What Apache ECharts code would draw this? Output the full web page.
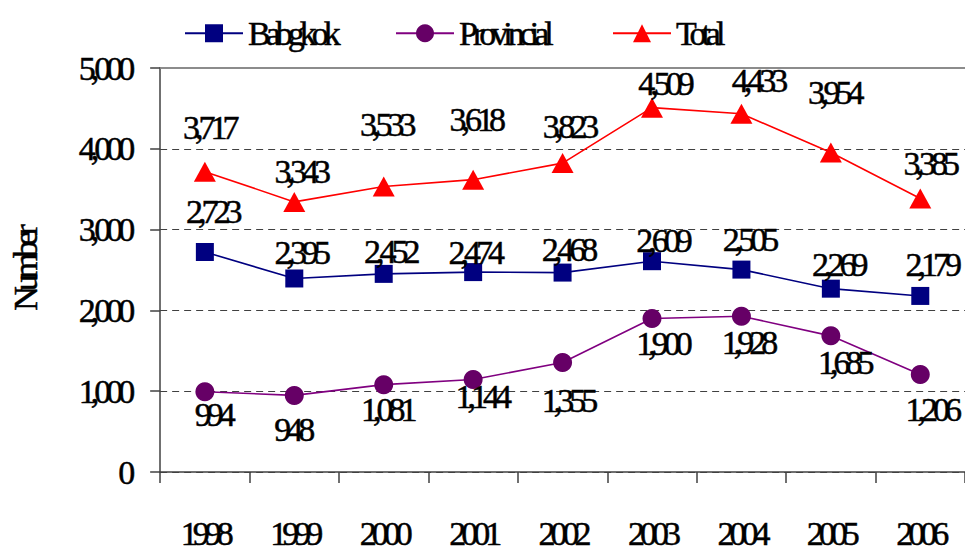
<!DOCTYPE html>
<html>
<head>
<meta charset="utf-8">
<script src="https://cdn.jsdelivr.net/npm/echarts@6/dist/echarts.min.js"></script>
<style>
  html, body { margin: 0; padding: 0; background: #ffffff; }
  #chart { width: 965px; height: 552px; }
  /* tight, overlapping serif lettering */
  #chart text { letter-spacing: -5px; }
</style>
</head>
<body>
<div id="chart"></div>
<script>
// Yearly counts, 1998-2006
const years = ['1998', '1999', '2000', '2001', '2002', '2003', '2004', '2005', '2006'];
const bangkok = [2723, 2395, 2452, 2474, 2468, 2609, 2505, 2269, 2179];
const provincial = [994, 948, 1081, 1144, 1355, 1900, 1928, 1685, 1206];
const total = [3717, 3343, 3533, 3618, 3823, 4509, 4433, 3954, 3385];

// Label placement relative to each marker centre: [dx, dy] in px
const labelNudge = {
  bangkok:    [[7, -40], [6, -26], [6, -22], [1, -20], [5, -23], [10, -21], [7, -30], [7, -24], [11, -31]],
  provincial: [[8, 23], [-2, 34], [3, 25], [8, 17], [5, 38], [10, 25], [6, 26], [13, 27], [11, 35]],
  total:      [[4, -44], [6, -30], [2, -62], [2, -60], [6, -37], [12, -24], [16, -33], [3, -60], [9, -35]]
};

const FONT = 'Liberation Serif, Times New Roman, serif';
const AXIS_COLOR = '#404040';
const fmt = v => Number(v).toLocaleString('en-US');

// shared lettering: large serif, slightly heavier stroke
const textBase = {
  fontFamily: FONT,
  fontSize: 34,
  color: '#000000',
  textBorderColor: '#000000',
  textBorderWidth: 0.5
};

function withLabels(values, nudges) {
  return values.map((v, i) => ({ value: v, label: { offset: nudges[i] } }));
}

function lineSeries(name, values, nudges, lineColor, markColor, symbol, size) {
  return {
    name: name,
    type: 'line',
    xAxisIndex: 0,
    data: withLabels(values, nudges),
    symbol: symbol,
    symbolSize: size,
    lineStyle: { color: lineColor, width: 1.6 },
    itemStyle: { color: markColor },
    label: Object.assign({
      show: true,
      position: 'inside',
      formatter: p => fmt(p.value)
    }, textBase),
    emphasis: { disabled: true },
    animation: false
  };
}

const legendBase = {
  top: 16,
  padding: 0,
  itemGap: 0,
  itemWidth: 58,
  itemHeight: 22.5,
  textStyle: Object.assign({}, textBase)
};

const option = {
  backgroundColor: '#ffffff',
  animation: false,
  legend: [
    Object.assign({}, legendBase, { data: ['Babgkok'], left: 184 }),
    Object.assign({}, legendBase, { data: ['Provincial'], left: 395 }),
    Object.assign({}, legendBase, { data: ['Total'], left: 612 })
  ],
  grid: { left: 153, right: 0, top: 68, bottom: 80, containLabel: false },
  xAxis: [
    {
      type: 'category',
      data: years,
      boundaryGap: true,
      axisLine: { show: true, lineStyle: { color: AXIS_COLOR, width: 1.5 } },
      axisTick: { show: true, length: 11, interval: 0, lineStyle: { color: AXIS_COLOR, width: 1.5 } },
      axisLabel: Object.assign({ interval: 0, margin: 44 }, textBase),
      splitLine: { show: false }
    },
    {
      // plot-area top edge
      type: 'category',
      data: years,
      position: 'top',
      axisLine: { show: true, lineStyle: { color: '#8c8c8c', width: 2 } },
      axisTick: { show: false },
      axisLabel: { show: false },
      splitLine: { show: false }
    }
  ],
  yAxis: {
    type: 'value',
    min: 0,
    max: 5000,
    interval: 1000,
    name: 'Number',
    nameLocation: 'middle',
    nameGap: 112,
    nameTextStyle: Object.assign({}, textBase),
    axisLine: { show: true, lineStyle: { color: AXIS_COLOR, width: 1.5 } },
    axisTick: { show: true, length: 10, lineStyle: { color: AXIS_COLOR, width: 1.5 } },
    axisLabel: Object.assign({ margin: 30, formatter: v => fmt(v) }, textBase),
    splitLine: { show: true, lineStyle: { color: AXIS_COLOR, width: 1, type: [7, 5] } }
  },
  series: [
    lineSeries('Babgkok', bangkok, labelNudge.bangkok, '#000080', '#000080', 'rect', 18),
    lineSeries('Provincial', provincial, labelNudge.provincial, '#800080', '#660066', 'circle', 19),
    lineSeries('Total', total, labelNudge.total, '#ff0000', '#ff0000', 'triangle', [22, 20])
  ]
};

const chart = echarts.init(document.getElementById('chart'), null, { renderer: 'svg' });
chart.setOption(option);
</script>
</body>
</html>
